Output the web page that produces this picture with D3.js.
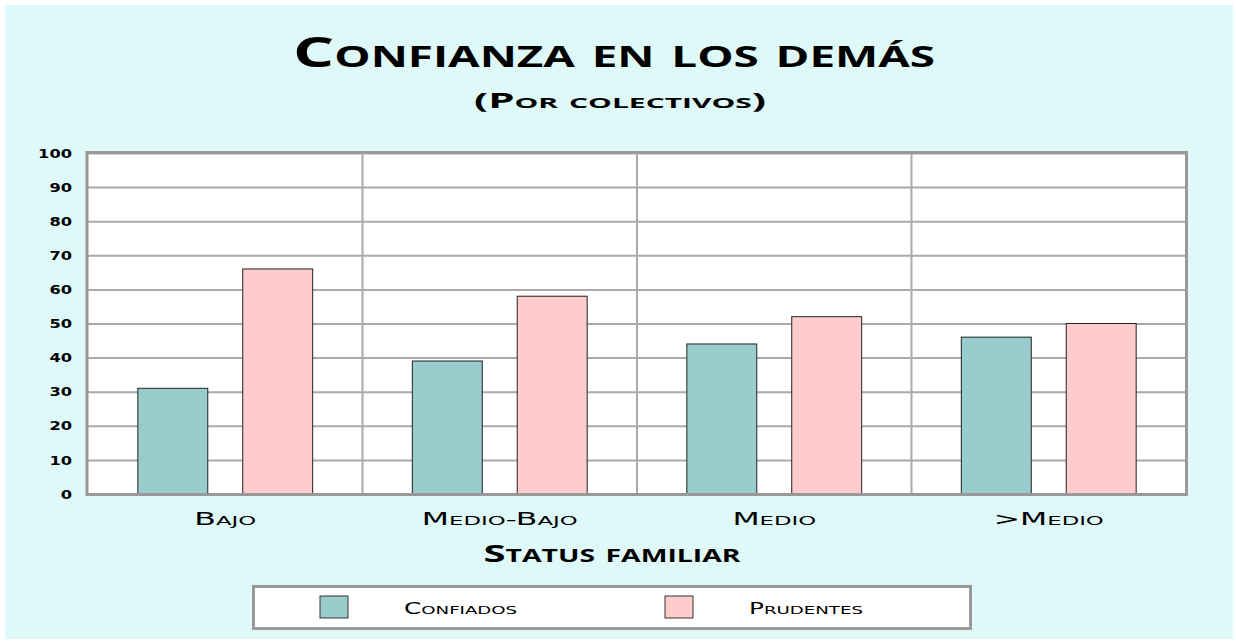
<!DOCTYPE html>
<html>
<head>
<meta charset="utf-8">
<script src="https://cdn.jsdelivr.net/npm/d3@7"></script>
<style>
    body { margin: 0; background: #fff; }
    svg text { font-family: "DejaVu Sans", sans-serif; font-variant: small-caps; fill: #000; }
    svg text.heading { font-family: "Open Sans", sans-serif; font-weight: 700; }
</style>
</head>
<body>
<div id="chart"></div>
<script>
// data
const categories = ['Bajo', 'Medio-Bajo', 'Medio', '>Medio'];
const seriesNames = ['Confiados', 'Prudentes'];
const confiados = [31, 39, 44, 46];
const prudentes = [66, 58, 52, 50];
const yTicks = [0, 10, 20, 30, 40, 50, 60, 70, 80, 90, 100];
const colors = ['#99cccc', '#ffcccc'];

const width = 1236;
const height = 643;
const margin = { top: 153, right: 50, bottom: 149, left: 88 };
const graphWidth = width - margin.left - margin.right;
const graphHeight = height - margin.top - margin.bottom;

// stretch glyphs sideways to get the wide copperplate look
const widen = (sel, f) => {
    sel.each(function () {
        const w = this.getComputedTextLength();
        d3.select(this)
            .attr('textLength', w * f)
            .attr('lengthAdjust', 'spacingAndGlyphs');
    });
};

const svg = d3.select('#chart')
    .append('svg')
    .attr('width', width)
    .attr('height', height);

// background panel
svg.append('rect')
    .attr('x', 5).attr('y', 5)
    .attr('width', 1228).attr('height', 634)
    .attr('fill', '#dff8f8');

// titles
svg.append('text')
    .attr('class', 'heading')
    .attr('x', 614).attr('y', 67)
    .attr('text-anchor', 'middle')
    .attr('font-size', 41)
    .attr('textLength', 642)
    .attr('lengthAdjust', 'spacingAndGlyphs')
    .text('Confianza en los demás');

svg.append('text')
    .attr('class', 'heading')
    .attr('x', 620).attr('y', 108)
    .attr('text-anchor', 'middle')
    .attr('font-size', 21)
    .attr('textLength', 292)
    .attr('lengthAdjust', 'spacingAndGlyphs')
    .text('(Por colectivos)');

const chart = svg.append('g')
    .attr('transform', `translate(${margin.left}, ${margin.top})`);

// scales
const x0 = d3.scaleBand()
    .domain(categories)
    .range([0, graphWidth]);

const x1 = d3.scaleBand()
    .domain(seriesNames)
    .range([0, x0.bandwidth()])
    .paddingInner(1 / 3)
    .paddingOuter(0.475);

const y = d3.scaleLinear()
    .domain([0, 100])
    .range([graphHeight, 0]);

// plot area
chart.append('rect')
    .attr('width', graphWidth)
    .attr('height', graphHeight)
    .attr('fill', '#fff');

// horizontal gridlines
const yAxis = d3.axisLeft(y)
    .tickValues(yTicks)
    .tickSize(-graphWidth)
    .tickPadding(16);

const yAxisGroup = chart.append('g').call(yAxis);
yAxisGroup.select('.domain').remove();
yAxisGroup.selectAll('line')
    .attr('stroke', '#aaa')
    .attr('stroke-width', 2);
yAxisGroup.selectAll('text')
    .attr('font-size', 13)
    .attr('font-weight', 'bold')
    .attr('font-family', '"DejaVu Sans", sans-serif')
    .call(widen, 1.25);

// vertical separators between categories
chart.append('g')
    .selectAll('line')
    .data(categories.slice(1))
    .enter()
    .append('line')
    .attr('x1', d => x0(d))
    .attr('x2', d => x0(d))
    .attr('y1', 0)
    .attr('y2', graphHeight)
    .attr('stroke', '#aaa')
    .attr('stroke-width', 2);

// bars
const rows = categories.map((c, i) => ({ cat: c, values: [confiados[i], prudentes[i]] }));

const groups = chart.selectAll('.grp')
    .data(rows)
    .enter()
    .append('g')
    .attr('class', 'grp')
    .attr('transform', d => `translate(${x0(d.cat)}, 0)`);

groups.selectAll('rect')
    .data(d => d.values.map((v, j) => ({ name: seriesNames[j], value: v, color: colors[j] })))
    .enter()
    .append('rect')
    .attr('x', d => x1(d.name))
    .attr('y', d => y(d.value))
    .attr('width', x1.bandwidth())
    .attr('height', d => graphHeight - y(d.value))
    .attr('fill', d => d.color)
    .attr('stroke', '#222')
    .attr('stroke-width', 1);

// plot border
chart.append('rect')
    .attr('x', -1).attr('y', -0.5)
    .attr('width', graphWidth + 1.5)
    .attr('height', graphHeight + 1)
    .attr('fill', 'none')
    .attr('stroke', '#999')
    .attr('stroke-width', 3);

// category labels
chart.append('g')
    .selectAll('text')
    .data(categories)
    .enter()
    .append('text')
    .attr('x', d => x0(d) + x0.bandwidth() / 2)
    .attr('y', graphHeight + 31)
    .attr('text-anchor', 'middle')
    .attr('font-size', 18)
    .text(d => d)
    .call(widen, 1.75);

// x axis title
svg.append('text')
    .attr('class', 'heading')
    .attr('x', 612).attr('y', 562)
    .attr('text-anchor', 'middle')
    .attr('font-size', 24)
    .attr('textLength', 257)
    .attr('lengthAdjust', 'spacingAndGlyphs')
    .text('Status familiar');

// legend
const legend = svg.append('g');
legend.append('rect')
    .attr('x', 253.5).attr('y', 586.5)
    .attr('width', 717).attr('height', 42)
    .attr('fill', '#fff')
    .attr('stroke', '#999')
    .attr('stroke-width', 3);

const legendX = [320, 665];
const legendItems = legend.selectAll('.item')
    .data(seriesNames)
    .enter()
    .append('g')
    .attr('class', 'item')
    .attr('transform', (d, i) => `translate(${legendX[i]}, 596)`);

legendItems.append('rect')
    .attr('width', 28)
    .attr('height', 22)
    .attr('fill', (d, i) => colors[i])
    .attr('stroke', '#333')
    .attr('stroke-width', 1);

legendItems.append('text')
    .attr('x', 84)
    .attr('y', 18)
    .attr('font-size', 15)
    .text(d => d)
    .call(widen, 1.65);
</script>
</body>
</html>
